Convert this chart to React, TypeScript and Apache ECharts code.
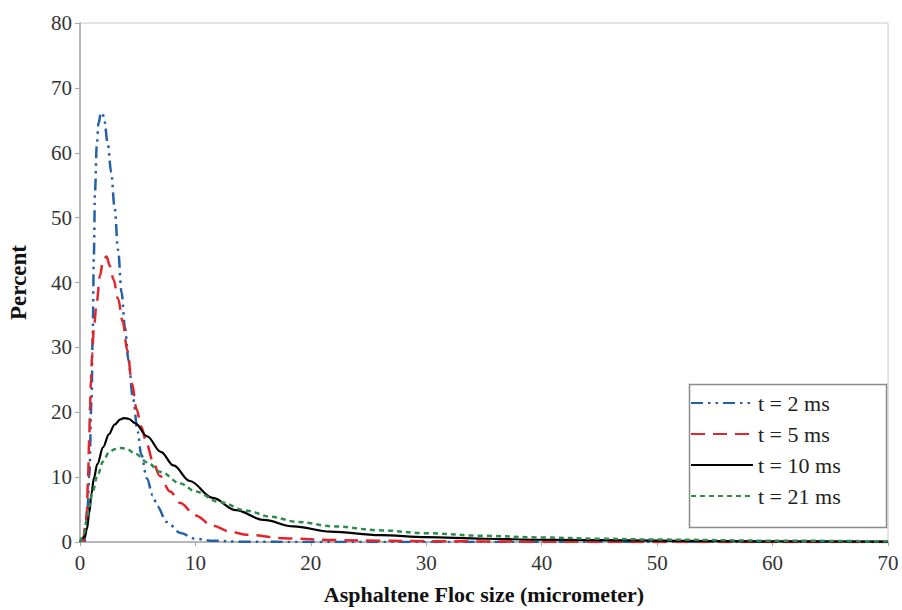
import React, { useEffect, useRef } from "react";
import * as echarts from "echarts";

const seriesNames = ["t = 2 ms", "t = 5 ms", "t = 10 ms", "t = 21 ms"];

const xTicks = [0, 10, 20, 30, 40, 50, 60, 70];
const yTicks = [0, 10, 20, 30, 40, 50, 60, 70, 80];

const t2X = [0.4, 0.6, 0.8, 1.0, 1.1, 1.2, 1.3, 1.45, 1.6, 1.8, 1.95, 2.1, 2.4, 2.7, 3.0, 3.3, 3.6, 3.9, 4.2, 4.6, 5.0, 5.3, 5.8, 6.3, 6.7, 7.5, 8.7, 10, 11.5, 14, 20, 30, 40, 50, 60, 70];
const t2Y = [0, 3, 10, 22, 32, 44, 54, 61, 64.5, 66, 66.2, 65, 61.5, 57, 51.5, 45, 38.5, 33, 28, 22, 17, 13.5, 9.8, 7.2, 5.5, 3.1, 1.4, 0.5, 0.2, 0.05, 0, 0, 0, 0, 0, 0];

const t5X = [0.3, 0.5, 0.6, 0.7, 0.8, 0.87, 0.95, 1.05, 1.2, 1.45, 1.73, 2.0, 2.3, 2.6, 2.9, 3.3, 3.7, 4.1, 4.5, 4.9, 5.3, 5.8, 6.3, 6.9, 7.8, 8.7, 10, 11.5, 13, 14.5, 18, 22, 26, 30, 40, 50, 60, 70];
const t5Y = [0, 3, 5, 10, 16, 21, 25, 29, 33, 37, 41, 43.5, 44, 42.5, 40.5, 37.5, 34, 29.5, 24.5, 20.5, 17.8, 15, 12.5, 10.2, 7.8, 6, 4.1, 2.5, 1.6, 1.1, 0.55, 0.3, 0.2, 0.12, 0.05, 0, 0, 0];

const t10X = [0, 0.4, 0.6, 0.8, 1.0, 1.2, 1.5, 2.0, 2.5, 3.0, 3.5, 3.8, 4.2, 4.8, 5.8, 7, 8.1, 9.5, 11.5, 13.5, 15.9, 18.5, 21.7, 26, 30, 35, 40, 50, 60, 70];
const t10Y = [0, 0.8, 2, 4.5, 7.5, 9.8, 12, 14.6, 16.6, 18.1, 18.9, 19.1, 19.0, 18.3, 16.3, 13.9, 11.8, 9.4, 6.8, 4.9, 3.4, 2.4, 1.6, 1.05, 0.75, 0.5, 0.35, 0.2, 0.1, 0.05];

const t21X = [0, 0.3, 0.6, 0.8, 1.1, 1.5, 2.0, 2.5, 3.0, 3.5, 4.0, 4.8, 5.8, 7, 8.7, 10, 12, 14.5, 16.5, 18.8, 22, 26, 30, 35, 40, 45, 50, 60, 70];
const t21Y = [0, 1, 3.5, 5.5, 7.8, 10.2, 12.4, 13.8, 14.3, 14.5, 14.4, 13.6, 12.3, 10.8, 9, 7.8, 6.2, 4.8, 3.9, 3.1, 2.4, 1.8, 1.35, 0.95, 0.7, 0.5, 0.37, 0.2, 0.1];

const pairs = (xs: number[], ys: number[]) => xs.map((x, i) => [x, ys[i]]);

const FONT = "'Liberation Serif', 'Times New Roman', serif";

export default function App() {
  const ref = useRef<HTMLDivElement>(null);
  useEffect(() => {
    if (!ref.current) return;
    const chart = echarts.init(ref.current, undefined, { renderer: "svg" });
    const common = {
      type: "line",
      showSymbol: false,
      symbol: "none",
      smooth: 0.35,
      smoothMonotone: "x",
    };
    chart.setOption({
      animation: false,
      backgroundColor: "#ffffff",
      textStyle: { fontFamily: FONT },
      grid: {
        left: 80,
        top: 23,
        right: 14,
        bottom: 68,
        show: true,
        containLabel: false,
        outerBoundsMode: "none",
        borderColor: "#C8C8C8",
        borderWidth: 1,
      },
      legend: {
        orient: "vertical",
        left: 687,
        top: 382,
        padding: [10, 10, 10, 3],
        itemWidth: 62,
        itemHeight: 14,
        itemGap: 9,
        itemStyle: { opacity: 0 },
        textStyle: { fontFamily: FONT, fontSize: 22, color: "#222" },
        data: seriesNames,
      },
      graphic: [
        {
          type: "rect",
          left: 687,
          top: 382,
          shape: { width: 197, height: 143 },
          style: { fill: "none", stroke: "#8C8C8C", lineWidth: 1.5 },
          z: 10,
        },
      ],
      xAxis: {
        type: "value",
        min: 0,
        max: 70,
        interval: 10,
        name: "Asphaltene Floc size (micrometer)",
        nameLocation: "middle",
        nameGap: 41,
        nameTextStyle: { fontFamily: FONT, fontSize: 22, fontWeight: "bold", color: "#111" },
        axisLine: { show: true, lineStyle: { color: "#A8A8A8", width: 1.5 } },
        axisTick: { show: true, length: 4, lineStyle: { color: "#A8A8A8" } },
        axisLabel: { fontFamily: FONT, fontSize: 21, color: "#333", margin: 10 },
        splitLine: { show: false },
      },
      yAxis: {
        type: "value",
        min: 0,
        max: 80,
        interval: 10,
        name: "Percent",
        nameLocation: "middle",
        nameGap: 50,
        nameTextStyle: { fontFamily: FONT, fontSize: 23, fontWeight: "bold", color: "#111" },
        axisLine: { show: true, lineStyle: { color: "#A8A8A8", width: 1.5 } },
        axisTick: { show: true, length: 5, lineStyle: { color: "#A8A8A8" } },
        axisLabel: { fontFamily: FONT, fontSize: 21, color: "#333", margin: 8 },
        splitLine: { show: false },
      },
      series: [
        {
          ...common,
          name: seriesNames[0],
          data: pairs(t2X, t2Y),
          lineStyle: { color: "#2460A8", width: 2.5, type: [12, 5, 2.5, 5, 2.5, 5] },
          itemStyle: { color: "#2460A8" },
        },
        {
          ...common,
          name: seriesNames[1],
          data: pairs(t5X, t5Y),
          lineStyle: { color: "#E3242B", width: 2.5, type: [14, 8] },
          itemStyle: { color: "#E3242B" },
        },
        {
          ...common,
          name: seriesNames[2],
          data: pairs(t10X, t10Y),
          lineStyle: { color: "#000000", width: 2.2, type: "solid" },
          itemStyle: { color: "#000000" },
        },
        {
          ...common,
          name: seriesNames[3],
          data: pairs(t21X, t21Y),
          lineStyle: { color: "#2E8B4E", width: 2.5, type: [5, 4] },
          itemStyle: { color: "#2E8B4E" },
        },
      ],
    });
    return () => chart.dispose();
  }, []);
  return (
    <div
      ref={ref}
      style={{ position: "absolute", left: 0, top: 0, width: 902, height: 610, background: "#fff" }}
    />
  );
}
